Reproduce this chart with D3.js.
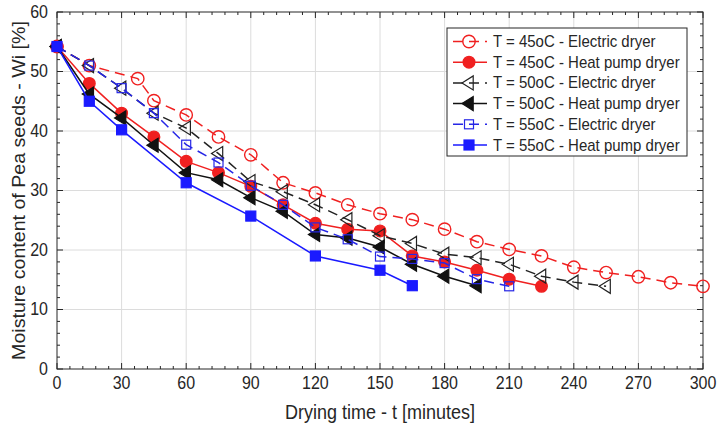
<!DOCTYPE html>
<html lang="en">
<head>
    <meta charset="UTF-8">
    <title>Moisture content of Pea seeds</title>
    <script src="https://d3js.org/d3.v7.min.js"></script>
    <style>
        body { margin: 0; background: #fff; }
        text { font-family: "Liberation Sans", Arial, sans-serif; fill: #262626; }
        .grid line { stroke: #dcdcdc; stroke-width: 1px; }
        .frame { fill: none; stroke: #262626; stroke-width: 1px; }
        .tick-mark { stroke: #262626; stroke-width: 1px; }
    </style>
</head>
<body>
<svg id="chart" width="719" height="426"></svg>

<script>
    // Данные
    const t45E = [0, 15, 37.5, 45, 60, 75, 90, 105, 120, 135, 150, 165, 180, 195, 210, 225, 240, 255, 270, 285, 300];
    const w45E = [54.2, 51, 48.8, 45.1, 42.7, 39, 36, 31.3, 29.6, 27.6, 26.1, 25.1, 23.5, 21.4, 20.1, 19, 17.1, 16.2, 15.5, 14.5, 13.9];

    const t45H = [0, 15, 30, 45, 60, 75, 90, 105, 120, 135, 150, 165, 180, 195, 210, 225];
    const w45H = [54.2, 48, 43, 39, 34.9, 33, 30.7, 27.6, 24.5, 23.5, 23.2, 19, 18, 16.6, 15.1, 13.9];

    const t50E = [0, 15, 30, 45, 60, 75, 90, 105, 120, 135, 150, 165, 180, 195, 210, 225, 240, 255];
    const w50E = [54.2, 51, 47.2, 43, 40.5, 36.2, 31.5, 29.8, 27.6, 25.1, 22.4, 21.1, 19.3, 18.7, 17.6, 15.6, 14.6, 13.9];

    const t50H = [0, 15, 30, 45, 60, 75, 90, 105, 120, 135, 150, 165, 180, 195];
    const w50H = [54.2, 46.2, 42.2, 37.6, 33, 31.8, 28.8, 26.5, 22.6, 22, 20.5, 17.6, 15.6, 14];

    const t55E = [0, 15, 30, 45, 60, 75, 90, 105, 120, 135, 150, 165, 180, 195, 210];
    const w55E = [54.2, 51, 47.2, 43, 37.7, 34.7, 30.8, 27.6, 23.8, 21.8, 18.9, 18.5, 17.8, 15.1, 13.9];

    const t55H = [0, 15, 30, 60, 90, 120, 150, 165];
    const w55H = [54.2, 45, 40.2, 31.3, 25.7, 19, 16.6, 14];

    const seriesNames = [
        "T = 45oC - Electric dryer",
        "T = 45oC - Heat pump dryer",
        "T = 50oC - Electric dryer",
        "T = 50oC - Heat pump dryer",
        "T = 55oC - Electric dryer",
        "T = 55oC - Heat pump dryer"
    ];
    const xTicks = [0, 30, 60, 90, 120, 150, 180, 210, 240, 270, 300];
    const yTicks = [0, 10, 20, 30, 40, 50, 60];

    const series = [
        { name: seriesNames[0], t: t45E, w: w45E, color: "#f02020", dashed: true,  marker: "circle", filled: false },
        { name: seriesNames[1], t: t45H, w: w45H, color: "#f02020", dashed: false, marker: "circle", filled: true },
        { name: seriesNames[2], t: t50E, w: w50E, color: "#222222", dashed: true,  marker: "triangle", filled: false },
        { name: seriesNames[3], t: t50H, w: w50H, color: "#111111", dashed: false, marker: "triangle", filled: true },
        { name: seriesNames[4], t: t55E, w: w55E, color: "#2626e6", dashed: true,  marker: "square", filled: false },
        { name: seriesNames[5], t: t55H, w: w55H, color: "#1a1aff", dashed: false, marker: "square", filled: true }
    ];

    const margin = { left: 57, right: 16, top: 12, bottom: 57 };
    const width = 719, height = 426;
    const stretch = 1.09; // текст на оригинале немного вытянут по вертикали
    const svg = d3.select("#chart");

    const x = d3.scaleLinear().domain([0, 300]).range([margin.left, width - margin.right]);
    const y = d3.scaleLinear().domain([0, 60]).range([height - margin.bottom, margin.top]);
    const x0 = x(0), x1 = x(300), y0 = y(0), y1 = y(60);

    // Сетка
    const grid = svg.append("g").attr("class", "grid");
    grid.selectAll(".gx").data(xTicks.slice(1, -1)).join("line")
        .attr("x1", d => x(d)).attr("x2", d => x(d)).attr("y1", y0).attr("y2", y1);
    grid.selectAll(".gy").data(yTicks.slice(1, -1)).join("line")
        .attr("y1", d => y(d)).attr("y2", d => y(d)).attr("x1", x0).attr("x2", x1);

    // Засечки внутрь со всех сторон
    const ticks = svg.append("g");
    const xMinor = d3.range(0, 301, 6);
    const yMinor = d3.range(0, 61, 2);
    xMinor.forEach(v => {
        const len = v % 30 === 0 ? 6 : 3;
        ticks.append("line").attr("class", "tick-mark").attr("x1", x(v)).attr("x2", x(v)).attr("y1", y0).attr("y2", y0 - len);
        ticks.append("line").attr("class", "tick-mark").attr("x1", x(v)).attr("x2", x(v)).attr("y1", y1).attr("y2", y1 + len);
    });
    yMinor.forEach(v => {
        const len = v % 10 === 0 ? 6 : 3;
        ticks.append("line").attr("class", "tick-mark").attr("y1", y(v)).attr("y2", y(v)).attr("x1", x0).attr("x2", x0 + len);
        ticks.append("line").attr("class", "tick-mark").attr("y1", y(v)).attr("y2", y(v)).attr("x1", x1).attr("x2", x1 - len);
    });

    svg.append("rect").attr("class", "frame")
        .attr("x", x0).attr("y", y1).attr("width", x1 - x0).attr("height", y0 - y1);

    // Подписи осей
    svg.append("g").selectAll("text").data(xTicks).join("text")
        .attr("transform", d => `translate(${x(d)},${y0 + 20}) scale(1,${stretch})`)
        .attr("text-anchor", "middle").attr("font-size", 16)
        .text(d => d);
    svg.append("g").selectAll("text").data(yTicks).join("text")
        .attr("transform", d => `translate(${x0 - 9},${y(d) + 5.5}) scale(1,${stretch})`)
        .attr("text-anchor", "end").attr("font-size", 16)
        .text(d => d);

    svg.append("text")
        .attr("transform", `translate(${(x0 + x1) / 2},419) scale(1,${stretch})`)
        .attr("text-anchor", "middle").attr("font-size", 18)
        .text("Drying time - t [minutes]");
    svg.append("text")
        .attr("transform", `translate(25,${(y0 + y1) / 2}) rotate(-90) scale(${stretch},1)`)
        .attr("text-anchor", "middle").attr("font-size", 18)
        .text("Moisture content of Pea seeds - Wi [%]");

    // Маркеры
    function drawMarker(g, s, cx, cy) {
        const fill = s.filled ? s.color : "none";
        if (s.marker === "circle") {
            g.append("circle").attr("cx", cx).attr("cy", cy)
                .attr("r", s.filled ? 5.8 : 6.2)
                .attr("fill", s.filled ? s.color : "none")
                .attr("stroke", s.color).attr("stroke-width", 1.4);
        } else if (s.marker === "triangle") {
            const r = 7;
            const pts = [[cx - r, cy], [cx + r * 0.6, cy - r], [cx + r * 0.6, cy + r]];
            g.append("polygon").attr("points", pts.map(p => p.join(",")).join(" "))
                .attr("fill", fill).attr("stroke", s.color).attr("stroke-width", 1.2);
        } else {
            const h = s.filled ? 5 : 4.5;
            g.append("rect").attr("x", cx - h).attr("y", cy - h)
                .attr("width", 2 * h).attr("height", 2 * h)
                .attr("fill", fill).attr("stroke", s.color).attr("stroke-width", 1.2);
        }
    }

    const line = d3.line().x(d => x(d[0])).y(d => y(d[1]));
    series.forEach(s => {
        const pts = s.t.map((t, i) => [t, s.w[i]]);
        svg.append("path").datum(pts)
            .attr("d", line)
            .attr("fill", "none")
            .attr("stroke", s.color)
            .attr("stroke-width", 1.5)
            .attr("stroke-dasharray", s.dashed ? "10,6" : null);
        const g = svg.append("g");
        pts.forEach(p => drawMarker(g, s, x(p[0]), y(p[1])));
    });

    // Легенда
    const lg = svg.append("g");
    lg.append("rect").attr("x", 447).attr("y", 28).attr("width", 240).attr("height", 128)
        .attr("fill", "#fff").attr("stroke", "#262626").attr("stroke-width", 1);
    series.forEach((s, i) => {
        const ly = 41.5 + i * 20.7;
        lg.append("line").attr("x1", 453).attr("x2", 487).attr("y1", ly).attr("y2", ly)
            .attr("stroke", s.color).attr("stroke-width", 1.5)
            .attr("stroke-dasharray", s.dashed ? "10,6" : null);
        drawMarker(lg, s, 469, ly);
        lg.append("text")
            .attr("transform", `translate(493,${ly + 5.5}) scale(1,${stretch})`)
            .attr("font-size", 15).text(s.name);
    });
</script>
</body>
</html>
